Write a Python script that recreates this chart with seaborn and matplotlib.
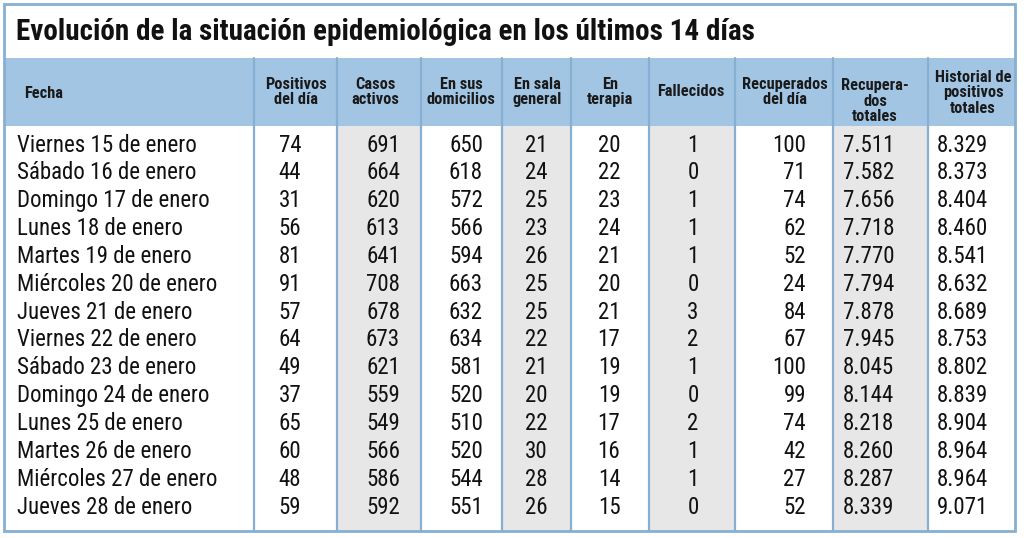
import matplotlib
matplotlib.use("Agg")
import matplotlib.pyplot as plt
from matplotlib.patches import Rectangle
import seaborn as sns

fechas = ["Viernes 15 de enero", "Sábado 16 de enero", "Domingo 17 de enero",
          "Lunes 18 de enero", "Martes 19 de enero", "Miércoles 20 de enero",
          "Jueves 21 de enero", "Viernes 22 de enero", "Sábado 23 de enero",
          "Domingo 24 de enero", "Lunes 25 de enero", "Martes 26 de enero",
          "Miércoles 27 de enero", "Jueves 28 de enero"]
positivos_dia = [74, 44, 31, 56, 81, 91, 57, 64, 49, 37, 65, 60, 48, 59]
casos_activos = [691, 664, 620, 613, 641, 708, 678, 673, 621, 559, 549, 566, 586, 592]
domicilios = [650, 618, 572, 566, 594, 663, 632, 634, 581, 520, 510, 520, 544, 551]
sala_general = [21, 24, 25, 23, 26, 25, 25, 22, 21, 20, 22, 30, 28, 26]
terapia = [20, 22, 23, 24, 21, 20, 21, 17, 19, 19, 17, 16, 14, 15]
fallecidos = [1, 0, 1, 1, 1, 0, 3, 2, 1, 0, 2, 1, 1, 0]
recuperados_dia = [100, 71, 74, 62, 52, 24, 84, 67, 100, 99, 74, 42, 27, 52]
recuperados_tot = ["7.511", "7.582", "7.656", "7.718", "7.770", "7.794", "7.878",
                   "7.945", "8.045", "8.144", "8.218", "8.260", "8.287", "8.339"]
historial_tot = ["8.329", "8.373", "8.404", "8.460", "8.541", "8.632", "8.689",
                 "8.753", "8.802", "8.839", "8.904", "8.964", "8.964", "9.071"]

headers = ["Fecha", "Positivos\ndel día", "Casos\nactivos", "En sus\ndomicilios",
           "En sala\ngeneral", "En\nterapia", "Fallecidos", "Recuperados\ndel día",
           "Recupera-\ndos\ntotales", "Historial de\npositivos\ntotales"]
title = "Evolución de la situación epidemiológica en los últimos 14 días"

sns.set_theme(style="white")
plt.rcParams['font.family'] = ['Roboto Condensed', 'DejaVu Sans']

BLUE = "#a2c5e4"
LINE = "#86afd2"
GRAY = "#e7e7e7"

fig = plt.figure(figsize=(10.24, 5.38), dpi=100)
ax = fig.add_axes([0, 0, 1, 1])
ax.set_xlim(0, 1024)
ax.set_ylim(538, 0)
ax.axis("off")

left, right, top, bottom = 4, 1015, 4, 531
title_bot, head_bot = 58, 126
edges = [left, 254, 337, 421, 502, 571, 649, 735, 833, 928, right]
shaded = [2, 4, 6, 8]

# header band and shaded columns
ax.add_patch(Rectangle((left, title_bot), right - left, head_bot - title_bot,
                       facecolor=BLUE, edgecolor="none"))
for c in shaded:
    ax.add_patch(Rectangle((edges[c], head_bot), edges[c + 1] - edges[c],
                           bottom - head_bot, facecolor=GRAY, edgecolor="none"))
for x in edges[1:-1]:
    ax.plot([x, x], [title_bot, bottom], color=LINE, lw=1.6)
ax.add_patch(Rectangle((left, top), right - left, bottom - top,
                       facecolor="none", edgecolor=LINE, lw=2))

ax.text(16, 32, title, fontsize=21, fontweight="bold", va="center", ha="left",
        color="#111111")

# header labels
head_x = [24, 296, 375, 461, 537, 610, 691, 785, 875, 973]
head_y = [93, 92, 92, 92, 92, 92, 92, 92, 101, 93]
for i, (h, x, y) in enumerate(zip(headers, head_x, head_y)):
    ax.text(x, y, h, fontsize=11.8, fontweight="bold", color="#1a1a1a",
            ha="left" if i == 0 else "center", va="center", linespacing=1.05)

# body
y0, dy = 145, 27.85
cols = [
    (positivos_dia, 290, "center"),
    (casos_activos, 383, "center"),
    (domicilios, 466, "center"),
    (sala_general, 536, "center"),
    (terapia, 609, "center"),
    (fallecidos, 693, "center"),
    (recuperados_dia, 806, "right"),
    (recuperados_tot, 843, "left"),
    (historial_tot, 937, "left"),
]
for r, f in enumerate(fechas):
    y = y0 + r * dy
    ax.text(17, y, f, fontsize=16.5, ha="left", va="center", color="#111111")
    for vals, x, ha in cols:
        ax.text(x, y, str(vals[r]), fontsize=16.5, ha=ha, va="center", color="#111111")

fig.savefig("out.png", dpi=100)
